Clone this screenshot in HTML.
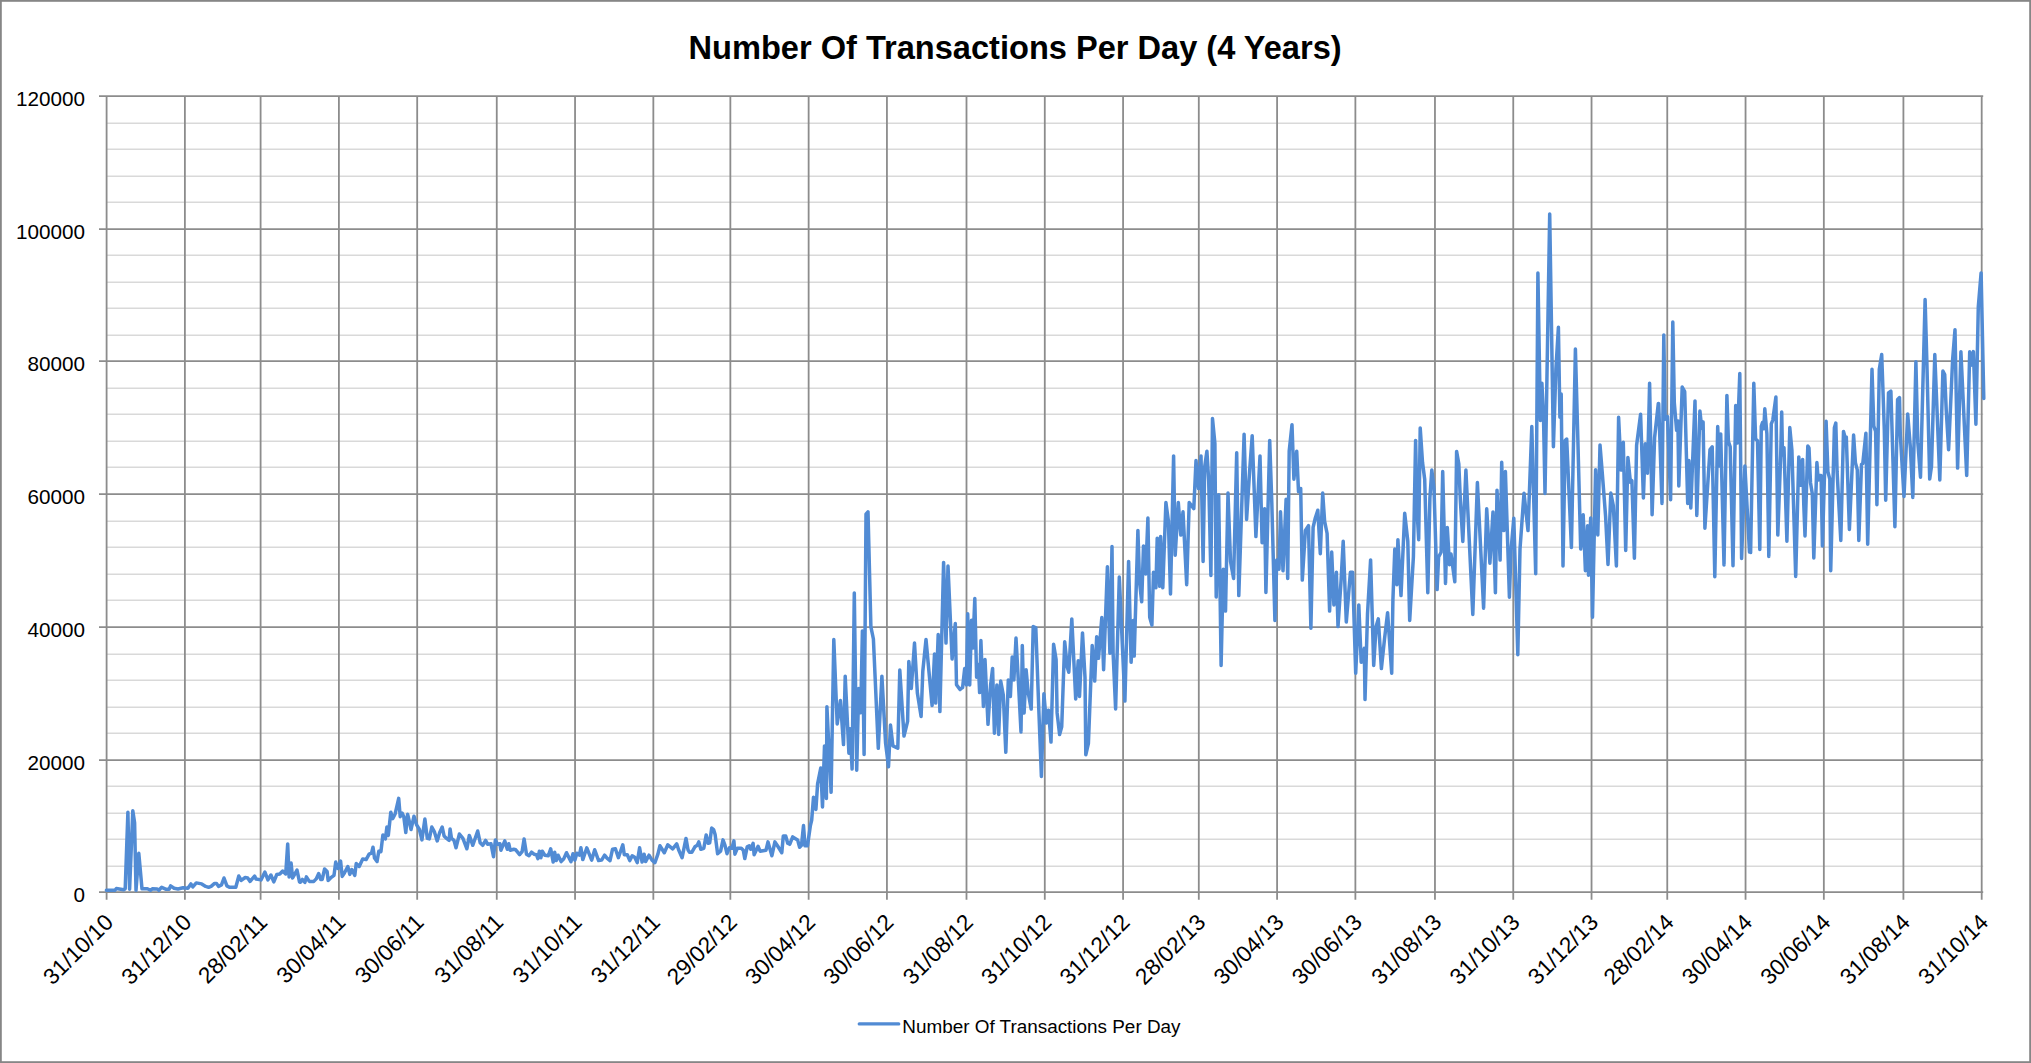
<!DOCTYPE html>
<html><head><meta charset="utf-8"><style>
html,body{margin:0;padding:0;background:#fff;}
body{width:2031px;height:1063px;overflow:hidden;position:relative;}
svg{position:absolute;left:0;top:0;}
text{font-family:"Liberation Sans",sans-serif;fill:#000;}
.yl{font-size:20.7px;}
.xl{font-size:22.6px;}
.title{font-size:32.6px;font-weight:bold;}
.leg{font-size:18.9px;}
</style></head><body>
<svg width="2031" height="1063" viewBox="0 0 2031 1063">
<rect x="0.9" y="0.9" width="2029.2" height="1061.2" fill="#fff" stroke="#868686" stroke-width="1.8"/>
<text x="1015.1" y="58.8" text-anchor="middle" class="title">Number Of Transactions Per Day (4 Years)</text>
<line x1="106.6" y1="866.20" x2="1983.2" y2="866.20" stroke="#d9d9d9" stroke-width="1.6"/>
<line x1="106.6" y1="839.20" x2="1983.2" y2="839.20" stroke="#d9d9d9" stroke-width="1.6"/>
<line x1="106.6" y1="813.20" x2="1983.2" y2="813.20" stroke="#d9d9d9" stroke-width="1.6"/>
<line x1="106.6" y1="786.20" x2="1983.2" y2="786.20" stroke="#d9d9d9" stroke-width="1.6"/>
<line x1="106.6" y1="733.20" x2="1983.2" y2="733.20" stroke="#d9d9d9" stroke-width="1.6"/>
<line x1="106.6" y1="707.20" x2="1983.2" y2="707.20" stroke="#d9d9d9" stroke-width="1.6"/>
<line x1="106.6" y1="680.20" x2="1983.2" y2="680.20" stroke="#d9d9d9" stroke-width="1.6"/>
<line x1="106.6" y1="654.20" x2="1983.2" y2="654.20" stroke="#d9d9d9" stroke-width="1.6"/>
<line x1="106.6" y1="600.20" x2="1983.2" y2="600.20" stroke="#d9d9d9" stroke-width="1.6"/>
<line x1="106.6" y1="574.20" x2="1983.2" y2="574.20" stroke="#d9d9d9" stroke-width="1.6"/>
<line x1="106.6" y1="547.20" x2="1983.2" y2="547.20" stroke="#d9d9d9" stroke-width="1.6"/>
<line x1="106.6" y1="521.20" x2="1983.2" y2="521.20" stroke="#d9d9d9" stroke-width="1.6"/>
<line x1="106.6" y1="467.20" x2="1983.2" y2="467.20" stroke="#d9d9d9" stroke-width="1.6"/>
<line x1="106.6" y1="441.20" x2="1983.2" y2="441.20" stroke="#d9d9d9" stroke-width="1.6"/>
<line x1="106.6" y1="414.20" x2="1983.2" y2="414.20" stroke="#d9d9d9" stroke-width="1.6"/>
<line x1="106.6" y1="388.20" x2="1983.2" y2="388.20" stroke="#d9d9d9" stroke-width="1.6"/>
<line x1="106.6" y1="335.20" x2="1983.2" y2="335.20" stroke="#d9d9d9" stroke-width="1.6"/>
<line x1="106.6" y1="308.20" x2="1983.2" y2="308.20" stroke="#d9d9d9" stroke-width="1.6"/>
<line x1="106.6" y1="282.20" x2="1983.2" y2="282.20" stroke="#d9d9d9" stroke-width="1.6"/>
<line x1="106.6" y1="255.20" x2="1983.2" y2="255.20" stroke="#d9d9d9" stroke-width="1.6"/>
<line x1="106.6" y1="202.20" x2="1983.2" y2="202.20" stroke="#d9d9d9" stroke-width="1.6"/>
<line x1="106.6" y1="176.20" x2="1983.2" y2="176.20" stroke="#d9d9d9" stroke-width="1.6"/>
<line x1="106.6" y1="149.20" x2="1983.2" y2="149.20" stroke="#d9d9d9" stroke-width="1.6"/>
<line x1="106.6" y1="123.20" x2="1983.2" y2="123.20" stroke="#d9d9d9" stroke-width="1.6"/>
<line x1="106.60" y1="96.20" x2="106.60" y2="899.70" stroke="#8c8c8c" stroke-width="1.8"/>
<line x1="184.89" y1="96.20" x2="184.89" y2="899.70" stroke="#8c8c8c" stroke-width="1.8"/>
<line x1="260.61" y1="96.20" x2="260.61" y2="899.70" stroke="#8c8c8c" stroke-width="1.8"/>
<line x1="338.90" y1="96.20" x2="338.90" y2="899.70" stroke="#8c8c8c" stroke-width="1.8"/>
<line x1="417.19" y1="96.20" x2="417.19" y2="899.70" stroke="#8c8c8c" stroke-width="1.8"/>
<line x1="496.76" y1="96.20" x2="496.76" y2="899.70" stroke="#8c8c8c" stroke-width="1.8"/>
<line x1="575.05" y1="96.20" x2="575.05" y2="899.70" stroke="#8c8c8c" stroke-width="1.8"/>
<line x1="653.34" y1="96.20" x2="653.34" y2="899.70" stroke="#8c8c8c" stroke-width="1.8"/>
<line x1="730.35" y1="96.20" x2="730.35" y2="899.70" stroke="#8c8c8c" stroke-width="1.8"/>
<line x1="808.64" y1="96.20" x2="808.64" y2="899.70" stroke="#8c8c8c" stroke-width="1.8"/>
<line x1="886.93" y1="96.20" x2="886.93" y2="899.70" stroke="#8c8c8c" stroke-width="1.8"/>
<line x1="966.50" y1="96.20" x2="966.50" y2="899.70" stroke="#8c8c8c" stroke-width="1.8"/>
<line x1="1044.79" y1="96.20" x2="1044.79" y2="899.70" stroke="#8c8c8c" stroke-width="1.8"/>
<line x1="1123.08" y1="96.20" x2="1123.08" y2="899.70" stroke="#8c8c8c" stroke-width="1.8"/>
<line x1="1198.80" y1="96.20" x2="1198.80" y2="899.70" stroke="#8c8c8c" stroke-width="1.8"/>
<line x1="1277.09" y1="96.20" x2="1277.09" y2="899.70" stroke="#8c8c8c" stroke-width="1.8"/>
<line x1="1355.38" y1="96.20" x2="1355.38" y2="899.70" stroke="#8c8c8c" stroke-width="1.8"/>
<line x1="1434.96" y1="96.20" x2="1434.96" y2="899.70" stroke="#8c8c8c" stroke-width="1.8"/>
<line x1="1513.25" y1="96.20" x2="1513.25" y2="899.70" stroke="#8c8c8c" stroke-width="1.8"/>
<line x1="1591.54" y1="96.20" x2="1591.54" y2="899.70" stroke="#8c8c8c" stroke-width="1.8"/>
<line x1="1667.26" y1="96.20" x2="1667.26" y2="899.70" stroke="#8c8c8c" stroke-width="1.8"/>
<line x1="1745.55" y1="96.20" x2="1745.55" y2="899.70" stroke="#8c8c8c" stroke-width="1.8"/>
<line x1="1823.84" y1="96.20" x2="1823.84" y2="899.70" stroke="#8c8c8c" stroke-width="1.8"/>
<line x1="1903.41" y1="96.20" x2="1903.41" y2="899.70" stroke="#8c8c8c" stroke-width="1.8"/>
<line x1="1981.70" y1="96.20" x2="1981.70" y2="899.70" stroke="#8c8c8c" stroke-width="1.8"/>
<line x1="99" y1="892.20" x2="1983.2" y2="892.20" stroke="#8c8c8c" stroke-width="1.8"/>
<text x="85.0" y="902.00" text-anchor="end" class="yl">0</text>
<line x1="99" y1="760.20" x2="1983.2" y2="760.20" stroke="#8c8c8c" stroke-width="1.8"/>
<text x="85.0" y="770.00" text-anchor="end" class="yl">20000</text>
<line x1="99" y1="627.20" x2="1983.2" y2="627.20" stroke="#8c8c8c" stroke-width="1.8"/>
<text x="85.0" y="637.00" text-anchor="end" class="yl">40000</text>
<line x1="99" y1="494.20" x2="1983.2" y2="494.20" stroke="#8c8c8c" stroke-width="1.8"/>
<text x="85.0" y="504.00" text-anchor="end" class="yl">60000</text>
<line x1="99" y1="361.20" x2="1983.2" y2="361.20" stroke="#8c8c8c" stroke-width="1.8"/>
<text x="85.0" y="371.00" text-anchor="end" class="yl">80000</text>
<line x1="99" y1="229.20" x2="1983.2" y2="229.20" stroke="#8c8c8c" stroke-width="1.8"/>
<text x="85.0" y="239.00" text-anchor="end" class="yl">100000</text>
<line x1="99" y1="96.20" x2="1983.2" y2="96.20" stroke="#8c8c8c" stroke-width="1.8"/>
<text x="85.0" y="106.00" text-anchor="end" class="yl">120000</text>
<text x="114.60" y="923.70" text-anchor="end" transform="rotate(-45 114.60 923.70)" class="xl">31/10/10</text>
<text x="192.89" y="923.70" text-anchor="end" transform="rotate(-45 192.89 923.70)" class="xl">31/12/10</text>
<text x="268.61" y="923.70" text-anchor="end" transform="rotate(-45 268.61 923.70)" class="xl">28/02/11</text>
<text x="346.90" y="923.70" text-anchor="end" transform="rotate(-45 346.90 923.70)" class="xl">30/04/11</text>
<text x="425.19" y="923.70" text-anchor="end" transform="rotate(-45 425.19 923.70)" class="xl">30/06/11</text>
<text x="504.76" y="923.70" text-anchor="end" transform="rotate(-45 504.76 923.70)" class="xl">31/08/11</text>
<text x="583.05" y="923.70" text-anchor="end" transform="rotate(-45 583.05 923.70)" class="xl">31/10/11</text>
<text x="661.34" y="923.70" text-anchor="end" transform="rotate(-45 661.34 923.70)" class="xl">31/12/11</text>
<text x="738.35" y="923.70" text-anchor="end" transform="rotate(-45 738.35 923.70)" class="xl">29/02/12</text>
<text x="816.64" y="923.70" text-anchor="end" transform="rotate(-45 816.64 923.70)" class="xl">30/04/12</text>
<text x="894.93" y="923.70" text-anchor="end" transform="rotate(-45 894.93 923.70)" class="xl">30/06/12</text>
<text x="974.50" y="923.70" text-anchor="end" transform="rotate(-45 974.50 923.70)" class="xl">31/08/12</text>
<text x="1052.79" y="923.70" text-anchor="end" transform="rotate(-45 1052.79 923.70)" class="xl">31/10/12</text>
<text x="1131.08" y="923.70" text-anchor="end" transform="rotate(-45 1131.08 923.70)" class="xl">31/12/12</text>
<text x="1206.80" y="923.70" text-anchor="end" transform="rotate(-45 1206.80 923.70)" class="xl">28/02/13</text>
<text x="1285.09" y="923.70" text-anchor="end" transform="rotate(-45 1285.09 923.70)" class="xl">30/04/13</text>
<text x="1363.38" y="923.70" text-anchor="end" transform="rotate(-45 1363.38 923.70)" class="xl">30/06/13</text>
<text x="1442.96" y="923.70" text-anchor="end" transform="rotate(-45 1442.96 923.70)" class="xl">31/08/13</text>
<text x="1521.25" y="923.70" text-anchor="end" transform="rotate(-45 1521.25 923.70)" class="xl">31/10/13</text>
<text x="1599.54" y="923.70" text-anchor="end" transform="rotate(-45 1599.54 923.70)" class="xl">31/12/13</text>
<text x="1675.26" y="923.70" text-anchor="end" transform="rotate(-45 1675.26 923.70)" class="xl">28/02/14</text>
<text x="1753.55" y="923.70" text-anchor="end" transform="rotate(-45 1753.55 923.70)" class="xl">30/04/14</text>
<text x="1831.84" y="923.70" text-anchor="end" transform="rotate(-45 1831.84 923.70)" class="xl">30/06/14</text>
<text x="1911.41" y="923.70" text-anchor="end" transform="rotate(-45 1911.41 923.70)" class="xl">31/08/14</text>
<text x="1989.70" y="923.70" text-anchor="end" transform="rotate(-45 1989.70 923.70)" class="xl">31/10/14</text>
<path d="M106.4,890.3 L114.8,890.3 L116.3,888.6 L123.7,889.8 L125.2,888.8 L127.9,812.3 L129.6,889.3 L132.8,810.8 L134.6,822.7 L136.0,890.3 L138.8,853.3 L142.0,888.8 L147.4,888.8 L150.4,890.3 L152.3,888.8 L157.3,889.0 L158.8,890.3 L161.7,887.3 L166.2,889.3 L169.1,889.3 L170.6,885.9 L174.1,888.3 L178.0,889.0 L183.0,887.8 L187.9,888.3 L190.9,883.9 L192.8,886.9 L196.3,882.9 L201.7,883.9 L205.7,886.4 L208.6,887.3 L211.1,886.4 L214.6,883.4 L216.5,883.4 L218.5,886.4 L221.5,884.9 L224.0,878.0 L226.9,885.9 L229.4,887.3 L235.8,887.3 L238.8,876.0 L241.2,880.4 L245.2,877.5 L247.7,878.0 L250.1,881.4 L254.6,876.0 L256.0,879.0 L261.0,879.9 L264.9,872.0 L267.9,879.9 L270.9,875.0 L273.8,881.9 L276.8,874.5 L279.8,874.0 L282.7,871.0 L285.7,874.0 L287.7,843.9 L289.1,877.0 L291.1,863.1 L292.6,878.0 L297.0,870.1 L299.5,881.9 L300.4,882.3 L302.4,879.4 L304.9,882.3 L306.4,876.9 L309.3,881.4 L313.8,881.4 L316.2,878.9 L318.7,873.5 L320.7,879.4 L322.2,879.4 L324.6,869.0 L327.1,871.5 L328.1,880.4 L330.6,877.9 L334.0,875.4 L335.7,862.1 L338.0,868.5 L340.6,861.1 L342.2,876.4 L344.4,873.0 L347.8,866.5 L349.8,874.4 L351.8,869.5 L354.8,875.4 L356.2,863.6 L359.2,866.5 L362.7,859.1 L366.1,859.6 L369.1,854.2 L371.5,853.2 L373.0,847.3 L374.5,858.1 L377.0,861.6 L378.8,851.2 L380.9,851.7 L382.9,834.9 L385.4,838.9 L386.9,827.0 L388.3,835.4 L390.8,812.2 L392.8,818.6 L395.2,813.7 L398.7,798.4 L400.2,816.7 L402.2,813.2 L403.8,816.7 L405.8,832.5 L407.6,814.2 L409.6,822.6 L411.0,829.5 L414.0,816.2 L416.5,824.6 L419.4,829.5 L421.9,839.9 L423.4,829.5 L424.9,819.1 L427.3,838.4 L429.3,838.9 L431.8,827.0 L434.3,831.5 L437.2,840.9 L439.7,832.5 L442.2,827.0 L444.1,835.9 L446.6,838.4 L449.1,840.4 L450.1,829.0 L451.5,838.4 L454.0,840.4 L456.0,847.8 L459.4,834.0 L462.9,838.4 L466.9,848.8 L469.3,835.4 L472.8,845.3 L477.7,831.0 L480.2,842.8 L482.7,845.3 L485.6,840.4 L487.6,844.3 L491.0,843.8 L493.5,856.7 L495.4,839.9 L497.4,844.3 L499.9,843.8 L500.9,850.2 L504.8,840.9 L507.3,849.3 L508.8,843.8 L510.2,850.2 L513.7,849.3 L515.7,849.8 L517.2,851.7 L519.6,854.7 L522.1,851.7 L524.1,838.9 L526.5,854.2 L529.0,855.7 L531.5,852.2 L534.0,854.2 L536.4,854.7 L537.9,858.6 L539.4,851.2 L540.9,857.7 L542.3,851.2 L544.8,855.2 L548.3,855.7 L550.7,848.8 L553.2,862.1 L554.7,852.2 L556.2,860.6 L558.1,855.2 L561.1,861.6 L563.6,859.1 L566.5,852.7 L571.0,861.6 L573.0,853.7 L574.9,860.1 L576.9,853.2 L579.4,855.2 L580.9,847.8 L582.8,859.6 L586.8,847.8 L591.7,860.1 L594.7,849.8 L598.6,860.6 L601.6,860.1 L604.6,855.2 L607.0,858.1 L610.0,860.6 L612.5,849.3 L615.4,848.8 L618.4,857.7 L622.8,844.8 L624.3,854.7 L627.3,854.7 L629.8,860.6 L632.2,855.7 L634.7,857.2 L637.2,862.6 L639.6,847.8 L642.1,862.1 L644.1,854.2 L645.6,861.6 L649.0,855.2 L652.0,860.1 L654.9,862.6 L657.9,854.2 L659.9,845.8 L664.3,852.7 L667.8,844.8 L672.7,848.8 L676.7,843.8 L678.6,849.8 L682.1,857.7 L686.0,838.4 L688.0,849.8 L689.4,852.2 L691.9,852.2 L694.9,846.8 L697.3,845.3 L698.8,841.9 L700.8,849.3 L703.8,848.3 L706.2,834.9 L708.2,843.3 L709.7,842.8 L711.7,828.0 L713.6,829.5 L715.1,834.4 L717.6,853.7 L720.6,851.2 L723.0,839.9 L725.0,845.3 L727.0,853.7 L729.4,847.8 L731.9,848.3 L733.9,840.9 L734.9,854.2 L737.3,848.3 L741.3,848.3 L743.3,850.2 L744.8,858.6 L747.2,846.8 L749.2,845.8 L750.7,849.3 L753.1,843.3 L754.1,854.7 L758.1,846.3 L760.1,851.2 L763.0,850.7 L766.0,850.2 L768.0,841.9 L771.9,855.7 L774.9,841.9 L777.8,846.3 L781.8,852.7 L783.3,835.9 L785.7,835.9 L787.7,843.3 L789.7,844.3 L792.7,836.9 L797.6,839.9 L799.6,847.3 L801.5,845.3 L803.5,825.6 L805.0,845.8 L807.5,845.8 L810.4,825.6 L811.7,820.0 L813.5,797.2 L815.9,809.5 L817.6,783.8 L820.8,767.9 L822.5,807.0 L824.5,745.9 L826.4,798.5 L826.9,706.7 L831.1,792.3 L833.8,639.5 L837.2,723.9 L840.4,700.6 L843.5,744.6 L845.2,676.2 L848.9,753.2 L850.1,728.7 L852.1,769.1 L854.3,593.0 L856.7,770.3 L858.7,688.4 L860.7,712.8 L862.4,630.9 L864.1,754.4 L866.0,514.2 L868.0,511.8 L870.9,626.8 L873.4,639.0 L878.3,748.3 L881.9,676.2 L885.6,743.4 L888.5,766.7 L890.5,725.1 L892.9,745.9 L897.8,748.3 L899.8,670.0 L904.0,736.1 L907.6,721.4 L908.8,661.5 L911.3,688.4 L914.5,643.1 L917.4,693.3 L921.1,716.5 L922.8,671.3 L926.0,639.5 L932.1,705.5 L934.5,654.1 L935.7,703.1 L938.2,634.6 L939.9,711.6 L943.6,562.4 L946.0,643.1 L948.0,566.1 L952.1,659.0 L955.3,623.6 L956.5,684.7 L960.0,689.6 L960.6,688.8 L962.6,687.5 L964.7,668.4 L966.4,684.9 L967.7,613.8 L969.7,684.9 L971.5,620.2 L972.8,648.1 L974.8,598.6 L976.6,677.3 L978.4,664.6 L979.6,692.6 L980.9,640.5 L983.4,706.5 L985.0,659.5 L988.0,724.3 L990.6,684.9 L992.6,668.4 L994.4,733.2 L996.9,684.9 L998.7,734.5 L1000.7,681.1 L1003.3,695.1 L1005.8,752.3 L1008.3,679.9 L1010.4,696.4 L1012.2,657.0 L1013.9,679.9 L1016.0,638.0 L1018.5,683.7 L1021.0,731.9 L1022.3,645.6 L1024.1,712.9 L1026.1,669.7 L1028.2,692.6 L1031.2,709.1 L1033.2,626.5 L1035.8,627.8 L1038.8,709.1 L1041.4,776.4 L1043.9,693.8 L1046.4,723.0 L1048.5,710.3 L1051.0,742.1 L1053.6,644.3 L1056.1,659.5 L1057.1,712.9 L1059.6,734.5 L1061.7,726.9 L1064.7,641.8 L1067.3,667.2 L1068.8,672.2 L1071.8,618.9 L1075.7,698.9 L1078.2,660.8 L1079.5,696.4 L1082.5,632.9 L1085.0,677.3 L1085.8,754.8 L1088.4,743.4 L1092.2,645.6 L1094.7,681.1 L1096.7,636.7 L1098.5,658.3 L1101.8,617.6 L1103.6,669.7 L1107.4,566.8 L1109.9,653.2 L1112.0,546.5 L1113.1,653.0 L1115.6,708.9 L1119.3,577.0 L1121.8,632.8 L1124.9,701.1 L1128.6,561.4 L1131.1,662.3 L1133.3,620.4 L1134.2,656.1 L1137.9,530.4 L1139.5,581.6 L1141.7,601.8 L1143.5,545.9 L1145.7,573.9 L1147.9,518.0 L1149.7,617.3 L1151.9,625.1 L1153.5,572.3 L1155.9,587.8 L1157.2,538.2 L1159.7,586.3 L1160.6,536.6 L1162.8,587.8 L1165.9,502.5 L1168.4,521.1 L1170.5,594.0 L1173.6,455.9 L1175.2,555.2 L1178.3,502.5 L1180.8,535.1 L1183.0,511.8 L1186.7,584.7 L1189.2,502.5 L1193.8,508.7 L1196.0,460.5 L1198.5,488.5 L1201.0,455.9 L1203.1,561.4 L1204.7,466.7 L1206.9,451.2 L1208.7,480.7 L1210.9,575.4 L1212.5,418.6 L1214.9,443.5 L1216.2,597.1 L1218.7,494.7 L1221.1,665.4 L1223.3,569.2 L1225.5,611.1 L1228.0,493.1 L1230.5,561.4 L1233.6,578.5 L1236.7,452.8 L1238.8,595.6 L1244.1,434.2 L1246.6,519.5 L1249.7,469.9 L1252.2,435.7 L1255.9,536.6 L1260.0,455.9 L1262.1,542.8 L1264.6,508.7 L1265.9,592.5 L1269.7,440.4 L1271.8,502.5 L1274.9,620.4 L1276.8,559.9 L1279.0,569.2 L1280.5,511.8 L1283.0,570.8 L1286.1,499.3 L1287.7,578.5 L1289.2,451.2 L1292.0,424.8 L1293.9,479.2 L1296.7,451.2 L1298.5,491.6 L1300.7,488.5 L1302.3,580.1 L1305.4,530.4 L1308.5,525.7 L1310.9,628.2 L1313.1,527.3 L1315.3,518.0 L1317.8,510.2 L1320.3,553.7 L1322.7,493.1 L1324.6,521.1 L1327.1,533.5 L1329.6,611.1 L1331.7,552.1 L1333.9,604.9 L1336.4,572.3 L1338.0,626.6 L1341.1,580.1 L1343.2,541.3 L1346.3,622.0 L1350.4,572.3 L1352.6,572.3 L1355.7,673.2 L1358.8,604.9 L1361.2,662.3 L1364.3,648.4 L1365.0,699.6 L1367.5,614.2 L1370.6,559.9 L1373.7,665.4 L1376.1,626.6 L1378.3,618.9 L1381.4,668.6 L1384.5,639.1 L1387.6,612.7 L1391.7,673.2 L1392.9,600.2 L1394.8,549.0 L1396.9,584.7 L1397.9,539.7 L1401.0,595.6 L1404.7,513.3 L1407.8,541.3 L1409.7,620.4 L1413.4,556.8 L1415.6,440.4 L1417.1,511.8 L1418.7,539.7 L1420.2,427.9 L1422.5,462.3 L1424.7,479.3 L1427.8,592.7 L1429.9,498.0 L1431.8,470.0 L1434.0,488.7 L1437.1,589.6 L1438.6,557.0 L1441.1,552.3 L1442.7,471.6 L1445.5,583.4 L1447.3,527.5 L1449.5,564.7 L1451.0,553.9 L1454.8,581.8 L1456.6,451.4 L1458.8,463.8 L1460.4,501.1 L1462.8,541.4 L1465.9,470.0 L1472.8,614.4 L1477.4,482.5 L1483.6,608.2 L1486.7,508.8 L1489.9,563.2 L1493.0,511.9 L1495.4,592.7 L1497.0,490.2 L1500.1,560.1 L1501.7,462.3 L1503.8,530.6 L1505.4,471.6 L1509.4,597.3 L1511.0,550.8 L1513.8,518.2 L1517.8,654.8 L1520.0,549.2 L1524.0,493.3 L1528.0,530.6 L1531.8,426.6 L1535.7,573.8 L1537.9,273.0 L1540.4,420.4 L1541.9,383.2 L1543.5,417.3 L1545.0,493.4 L1549.7,214.0 L1553.4,446.8 L1555.9,369.2 L1558.4,327.3 L1559.9,417.3 L1561.2,394.0 L1563.0,566.0 L1565.2,440.6 L1566.7,439.1 L1571.4,547.4 L1575.4,349.0 L1577.6,429.7 L1580.7,549.0 L1583.2,514.8 L1585.4,570.7 L1587.6,525.7 L1588.5,575.3 L1590.7,517.9 L1592.5,617.3 L1595.6,469.8 L1597.8,535.0 L1600.0,445.0 L1602.5,476.0 L1605.6,516.4 L1608.0,564.5 L1610.8,493.1 L1613.3,505.5 L1616.4,566.0 L1618.6,417.3 L1621.1,470.1 L1623.3,442.2 L1625.7,550.5 L1627.9,457.4 L1630.4,482.2 L1631.9,480.7 L1634.4,558.3 L1636.6,445.3 L1640.6,414.2 L1643.4,498.0 L1645.3,443.7 L1647.5,473.2 L1649.6,383.2 L1652.1,514.8 L1654.6,437.5 L1658.3,403.4 L1658.7,403.7 L1662.0,503.4 L1663.8,334.9 L1665.1,419.2 L1667.5,416.5 L1670.6,499.8 L1672.8,322.0 L1674.3,402.7 L1676.6,430.3 L1677.9,421.1 L1678.8,486.0 L1682.2,387.1 L1684.7,391.7 L1687.7,503.4 L1688.9,460.5 L1690.8,508.0 L1695.0,400.9 L1696.8,515.4 L1699.9,411.0 L1701.8,428.4 L1703.1,422.0 L1704.9,528.2 L1710.0,449.5 L1712.2,446.8 L1714.8,576.8 L1717.7,426.6 L1719.2,466.0 L1720.7,433.9 L1724.0,564.9 L1726.9,395.4 L1728.4,441.3 L1730.2,446.8 L1733.0,565.8 L1735.7,405.5 L1737.2,443.1 L1739.8,373.4 L1741.6,558.5 L1744.9,466.0 L1749.5,552.1 L1750.6,551.5 L1750.6,552.6 L1753.8,383.2 L1755.6,438.9 L1757.5,440.7 L1759.8,549.5 L1761.3,426.3 L1762.5,422.6 L1763.8,428.8 L1764.8,408.8 L1766.9,433.9 L1768.8,556.4 L1771.3,423.8 L1772.8,420.1 L1775.9,396.9 L1777.8,535.1 L1780.7,455.1 L1781.7,412.0 L1782.5,455.1 L1784.0,447.6 L1786.9,541.3 L1789.8,427.6 L1791.9,450.1 L1795.7,576.4 L1798.8,456.9 L1800.3,485.2 L1802.6,459.4 L1803.8,505.2 L1805.0,535.9 L1807.8,446.0 L1809.0,447.9 L1810.5,482.7 L1812.3,493.7 L1813.8,557.9 L1816.9,462.6 L1818.2,480.0 L1819.3,475.4 L1821.1,475.4 L1822.4,546.0 L1826.1,421.3 L1827.9,471.7 L1829.8,479.1 L1830.7,570.8 L1834.4,427.7 L1835.8,423.1 L1837.1,471.7 L1840.8,540.5 L1843.5,431.4 L1845.0,436.9 L1846.3,436.9 L1849.4,529.5 L1853.6,435.0 L1855.4,462.6 L1857.3,469.9 L1858.8,540.5 L1861.5,464.4 L1862.8,463.5 L1865.9,433.2 L1867.7,544.2 L1872.0,369.2 L1873.8,426.0 L1875.6,431.4 L1876.9,504.7 L1879.3,369.2 L1881.7,354.5 L1883.0,391.2 L1884.3,429.7 L1885.7,500.2 L1888.5,393.0 L1890.9,391.2 L1894.9,526.8 L1897.6,399.4 L1899.5,397.6 L1900.3,435.0 L1904.0,496.5 L1907.7,413.9 L1910.4,447.9 L1912.8,497.4 L1915.9,361.8 L1917.8,442.4 L1920.5,477.2 L1925.1,299.5 L1926.9,363.5 L1929.7,479.1 L1931.5,466.2 L1934.8,354.5 L1939.8,480.0 L1942.9,371.0 L1944.7,374.5 L1946.2,409.5 L1948.6,449.7 L1952.6,360.0 L1955.0,329.7 L1957.6,468.1 L1960.9,351.7 L1966.7,475.4 L1969.7,351.7 L1971.0,365.3 L1973.4,351.6 L1975.9,424.2 L1978.3,306.8 L1981.1,272.9 L1983.8,398.5" fill="none" stroke="#518bd4" stroke-width="3.5" stroke-linejoin="round" stroke-linecap="round"/>
<line x1="859.3" y1="1023.9" x2="898.7" y2="1023.9" stroke="#518bd4" stroke-width="3.4" stroke-linecap="round"/>
<text x="902.3" y="1032.8" class="leg">Number Of Transactions Per Day</text>
</svg>
</body></html>
